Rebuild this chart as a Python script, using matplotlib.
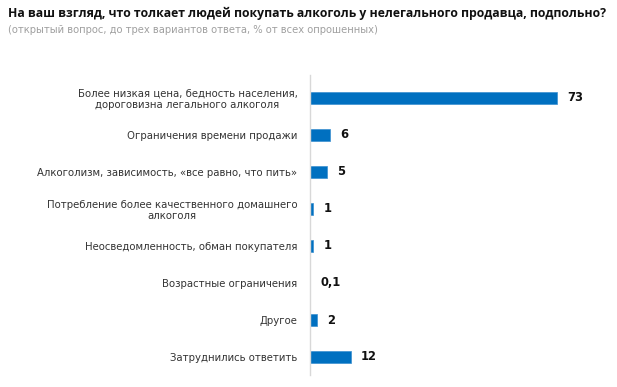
import matplotlib
matplotlib.use("Agg")
import matplotlib.pyplot as plt

categories = [
    "Более низкая цена, бедность населения,\nдороговизна легального алкоголя",
    "Ограничения времени продажи",
    "Алкоголизм, зависимость, «все равно, что пить»",
    "Потребление более качественного домашнего\nалкоголя",
    "Неосведомленность, обман покупателя",
    "Возрастные ограничения",
    "Другое",
    "Затруднились ответить",
]
values = [73, 6, 5, 1, 1, 0.1, 2, 12]
value_labels = ["73", "6", "5", "1", "1", "0,1", "2", "12"]

title = "На ваш взгляд, что толкает людей покупать алкоголь у нелегального продавца, подпольно?"
subtitle = "(открытый вопрос, до трех вариантов ответа, % от всех опрошенных)"

plt.rcParams['font.family'] = ['DejaVu Sans']

fig = plt.figure(figsize=(6.17, 3.87), dpi=100)
ax = fig.add_axes([310/617, 1-375/387, 290/617, 300/387])

ypos = list(range(len(categories)))
ax.barh(ypos, values, height=0.35, color="#0070C0", edgecolor="#3b8fd0", linewidth=0.5)
ax.set_ylim(7 + 18/37, -23/37)
ax.set_xlim(0, 290/3.38)

for y, v, lab in zip(ypos, values, value_labels):
    ax.text(v + 3.0, y, lab, va="center", ha="left", fontsize=8.3, fontweight="bold", color="#111111")

ax.set_yticks(ypos)
ax.set_yticklabels(categories, fontsize=7.3, color="#333333", linespacing=1.15,
                   multialignment="center")
ax.tick_params(axis="y", length=0, pad=9)
ax.set_xticks([])
for s in ["top", "right", "bottom"]:
    ax.spines[s].set_visible(False)
ax.spines["left"].set_color("#d8d8d8")
ax.spines["left"].set_linewidth(1.0)

fig.text(8/617, 1-13/387, title, fontsize=8.8, fontweight="bold", color="#111111",
         va="center", ha="left", family=["Open Sans", "DejaVu Sans"])
fig.text(8/617, 1-30/387, subtitle, fontsize=7.2, color="#a0a0a0", va="center", ha="left")

fig.savefig("out.png", dpi=100)
